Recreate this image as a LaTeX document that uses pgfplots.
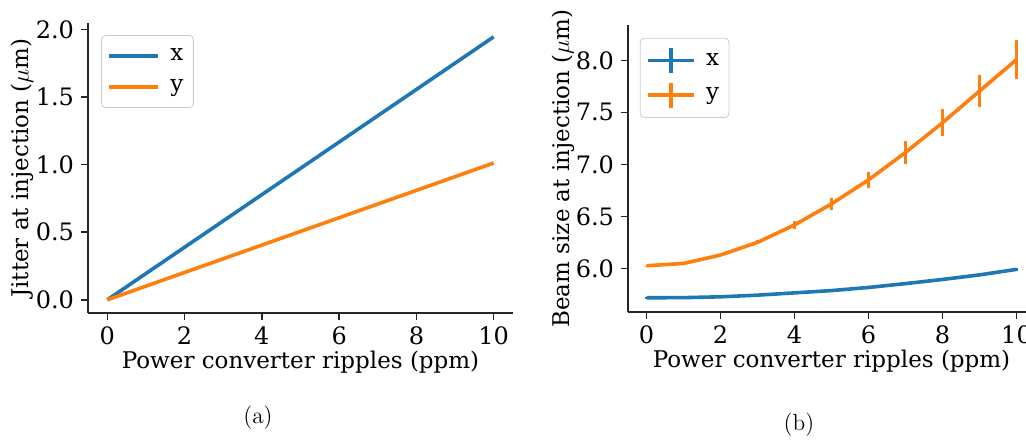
\documentclass[border=0pt]{standalone}
\usepackage{pgfplots}
\pgfplotsset{compat=1.18}
\usepackage{fontspec}
\setmainfont{DejaVu Serif}
\newfontfamily\lmfont{Latin Modern Roman}
\definecolor{mblue}{HTML}{1F77B4}
\definecolor{morange}{HTML}{FF7F0E}
\begin{document}
\begin{tikzpicture}[x=1pt,y=1pt]
\pgfplotsset{
  base/.style={
    scale only axis,
    axis x line*=bottom, axis y line*=left,
    axis line style={line width=0.8pt, black!85},
    tick align=outside, tick style={line width=0.8pt, black!85},
    major tick length=3.5pt,
    font=\fontsize{11.5}{13.5}\selectfont,
    tick label style={font=\fontsize{12}{14}\selectfont},
    /pgf/number format/assume math mode=true,
    xmin=-0.5, xmax=10.5, xtick={0,2,...,10},
    yticklabel style={/pgf/number format/.cd, fixed, fixed zerofill, precision=1},
    legend cell align=left,
    legend style={draw=black!20, rounded corners=2pt, fill=white, fill opacity=0.8, text opacity=1, anchor=north west, font=\fontsize{11.5}{13.5}\selectfont, row sep=3pt, inner xsep=3pt, inner ysep=4pt},
    every axis plot/.append style={line width=1.8pt},
    xlabel={Power converter ripples (ppm)},
    xlabel style={at={([yshift=-24.5pt]rel axis cs:0.5,0)}, anchor=center},
  }
}
\begin{axis}[base,
  at={(44pt,63pt)}, anchor=south west,
  width=212.5pt, height=145pt,
  ymin=-0.0975, ymax=2.0475, ytick={0,0.5,...,2.0},
  ylabel={Jitter at injection ($\mu$m)},
  ylabel style={at={([xshift=-32.75pt]rel axis cs:0,0.5)}, anchor=center},
  legend style={at={(rel axis cs:0.031,0.958)}},
  legend image code/.code={\path[draw=none,fill=none] (0pt,-6.25pt) rectangle (28.5pt,6.25pt); \draw[#1] (0pt,0pt) -- (24.5pt,0pt);},
]
\addplot[mblue] coordinates {(0,0) (1,0.1945) (2,0.389) (3,0.5835) (4,0.778) (5,0.9725) (6,1.167) (7,1.3615) (8,1.556) (9,1.7505) (10,1.945)};
\addplot[morange] coordinates {(0,0) (1,0.1012) (2,0.2024) (3,0.3036) (4,0.4048) (5,0.506) (6,0.6072) (7,0.7084) (8,0.8096) (9,0.9108) (10,1.012)};
\legend{x,y}
\end{axis}
\begin{axis}[base,
  at={(314pt,63.5pt)}, anchor=south west,
  width=203.5pt, height=143.5pt,
  ymin=5.58, ymax=8.34, ytick={6.0,6.5,...,8.0},
  ylabel={Beam size at injection ($\mu$m)},
  ylabel style={at={([xshift=-32.5pt]rel axis cs:0,0.5)}, anchor=center},
  legend style={at={(rel axis cs:0.029,0.955)}},
  legend image code/.code={\path[draw=none,fill=none] (0pt,-6.25pt) rectangle (27pt,6.25pt); \draw[#1] (0pt,0pt) -- (23pt,0pt); \draw[#1] (11.5pt,-6.25pt) -- (11.5pt,6.25pt);},
  error bars/error bar style={line width=1.5pt},
  error bars/error mark=none,
]
\addplot[mblue, error bars/.cd, y dir=both, y explicit] coordinates {
(0,5.717) +- (0,0.003) (1,5.718) +- (0,0.003) (2,5.726) +- (0,0.004) (3,5.742) +- (0,0.005) (4,5.764) +- (0,0.006) (5,5.786) +- (0,0.007) (6,5.816) +- (0,0.008) (7,5.853) +- (0,0.009) (8,5.893) +- (0,0.01) (9,5.937) +- (0,0.012) (10,5.99) +- (0,0.014)};
\addplot[morange, error bars/.cd, y dir=both, y explicit] coordinates {
(0,6.025) +- (0,0.002) (1,6.047) +- (0,0.005) (2,6.128) +- (0,0.01) (3,6.25) +- (0,0.02) (4,6.417) +- (0,0.035) (5,6.62) +- (0,0.06) (6,6.85) +- (0,0.075) (7,7.115) +- (0,0.11) (8,7.40) +- (0,0.13) (9,7.705) +- (0,0.155) (10,8.007) +- (0,0.19)};
\legend{x,y}
\end{axis}
\node[font=\lmfont\fontsize{11.7}{13}\selectfont] at (129pt,10.75pt) {(a)};
\node[font=\lmfont\fontsize{11.7}{13}\selectfont] at (399.5pt,7pt) {(b)};
\pgfresetboundingbox
\path[use as bounding box] (0pt,0pt) rectangle (513pt,219.5pt);
\end{tikzpicture}
\end{document}
